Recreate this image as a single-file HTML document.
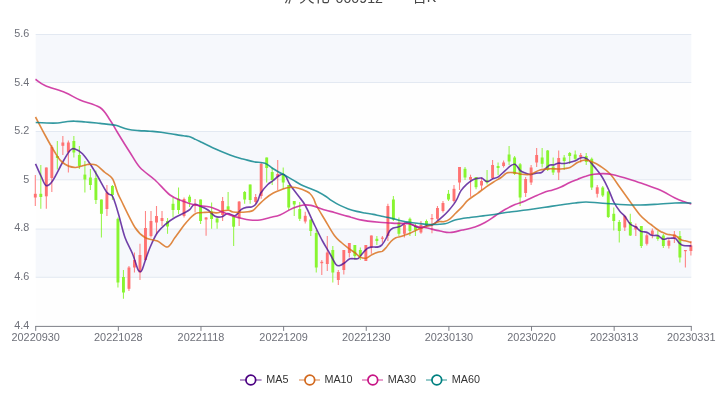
<!DOCTYPE html>
<html><head><meta charset="utf-8"><title>日K</title>
<style>
html,body{margin:0;padding:0;background:#fff;}
body{width:720px;height:405px;position:relative;overflow:hidden;font-family:"Liberation Sans","Noto Sans CJK SC",sans-serif;}
.title{position:absolute;left:0;top:0;width:720px;height:10px;color:#464646;font-weight:normal;white-space:nowrap;}
.title span{position:absolute;top:-12.3px;line-height:18px;}
.yl{position:absolute;left:0;width:29.2px;text-align:right;font-size:10.8px;line-height:12px;color:#6e7079;}
.xl{position:absolute;top:330.6px;width:80px;text-align:center;font-size:10.9px;line-height:12px;color:#6e7079;}
.lg{position:absolute;top:372.8px;height:14px;display:flex;align-items:center;font-size:10.6px;line-height:12px;color:#333;}
.lg span{margin-left:4.3px;font-size:10.8px;position:relative;top:-0.5px}
</style></head><body>
<div class="title"><span style="left:284px;font-size:15.3px">泸天化</span> <span style="left:335.6px;font-size:14.2px;top:-10.6px">000912</span> <span style="left:390px;font-size:14.7px">—</span> <span style="left:412.5px;font-size:14.2px">日K</span></div>
<svg width="720" height="405" viewBox="0 0 720 405" style="position:absolute;left:0;top:0">
<rect x="35.7" y="34.50" width="655.6" height="48.00" fill="#f6f8fc"/>
<rect x="35.7" y="82.50" width="655.6" height="49.00" fill="#fefefe"/>
<rect x="35.7" y="131.50" width="655.6" height="48.30" fill="#f6f8fc"/>
<rect x="35.7" y="179.80" width="655.6" height="49.30" fill="#fefefe"/>
<rect x="35.7" y="229.10" width="655.6" height="48.20" fill="#f6f8fc"/>
<rect x="35.7" y="277.30" width="655.6" height="49.10" fill="#fefefe"/>
<line x1="35.7" x2="691.3" y1="34.50" y2="34.50" stroke="#e0e6f1" stroke-width="0.9"/>
<line x1="35.7" x2="691.3" y1="82.50" y2="82.50" stroke="#e0e6f1" stroke-width="0.9"/>
<line x1="35.7" x2="691.3" y1="131.50" y2="131.50" stroke="#e0e6f1" stroke-width="0.9"/>
<line x1="35.7" x2="691.3" y1="179.80" y2="179.80" stroke="#e0e6f1" stroke-width="0.9"/>
<line x1="35.7" x2="691.3" y1="229.10" y2="229.10" stroke="#e0e6f1" stroke-width="0.9"/>
<line x1="35.7" x2="691.3" y1="277.30" y2="277.30" stroke="#e0e6f1" stroke-width="0.9"/>
<line x1="35.2" x2="691.8" y1="326.40" y2="326.40" stroke="#6e7079" stroke-width="0.9"/>
<line x1="35.70" x2="35.70" y1="326.40" y2="330.90" stroke="#6e7079" stroke-width="0.9"/>
<line x1="118.34" x2="118.34" y1="326.40" y2="330.90" stroke="#6e7079" stroke-width="0.9"/>
<line x1="200.98" x2="200.98" y1="326.40" y2="330.90" stroke="#6e7079" stroke-width="0.9"/>
<line x1="283.62" x2="283.62" y1="326.40" y2="330.90" stroke="#6e7079" stroke-width="0.9"/>
<line x1="366.25" x2="366.25" y1="326.40" y2="330.90" stroke="#6e7079" stroke-width="0.9"/>
<line x1="448.89" x2="448.89" y1="326.40" y2="330.90" stroke="#6e7079" stroke-width="0.9"/>
<line x1="531.53" x2="531.53" y1="326.40" y2="330.90" stroke="#6e7079" stroke-width="0.9"/>
<line x1="614.17" x2="614.17" y1="326.40" y2="330.90" stroke="#6e7079" stroke-width="0.9"/>
<line x1="691.30" x2="691.30" y1="326.40" y2="330.90" stroke="#6e7079" stroke-width="0.9"/>
<line x1="35.30" x2="35.30" y1="175.0" y2="206.0" stroke="#ff7272" stroke-width="1.1" opacity="0.85"/>
<rect x="33.85" y="193.8" width="2.90" height="3.7" fill="#ff7272"/>
<line x1="40.81" x2="40.81" y1="165.0" y2="208.8" stroke="#88f530" stroke-width="1.1" opacity="0.85"/>
<rect x="39.36" y="193.8" width="2.90" height="3.2" fill="#88f530"/>
<line x1="46.32" x2="46.32" y1="167.5" y2="208.8" stroke="#ff7272" stroke-width="1.1" opacity="0.85"/>
<rect x="44.87" y="167.5" width="2.90" height="28.8" fill="#ff7272"/>
<line x1="51.83" x2="51.83" y1="145.0" y2="192.0" stroke="#ff7272" stroke-width="1.1" opacity="0.85"/>
<rect x="50.38" y="147.0" width="2.90" height="31.0" fill="#ff7272"/>
<line x1="57.34" x2="57.34" y1="141.0" y2="169.6" stroke="#88f530" stroke-width="1.1" opacity="0.85"/>
<rect x="55.89" y="156.0" width="2.90" height="2.0" fill="#88f530"/>
<line x1="62.85" x2="62.85" y1="136.0" y2="155.0" stroke="#ff7272" stroke-width="1.1" opacity="0.85"/>
<rect x="61.40" y="142.5" width="2.90" height="3.3" fill="#ff7272"/>
<line x1="68.36" x2="68.36" y1="140.5" y2="172.5" stroke="#ff7272" stroke-width="1.1" opacity="0.85"/>
<rect x="66.91" y="142.5" width="2.90" height="10.0" fill="#ff7272"/>
<line x1="73.86" x2="73.86" y1="136.0" y2="157.5" stroke="#88f530" stroke-width="1.1" opacity="0.85"/>
<rect x="72.41" y="141.0" width="2.90" height="11.5" fill="#88f530"/>
<line x1="79.37" x2="79.37" y1="146.0" y2="169.0" stroke="#88f530" stroke-width="1.1" opacity="0.85"/>
<rect x="77.92" y="155.0" width="2.90" height="11.0" fill="#88f530"/>
<line x1="84.88" x2="84.88" y1="161.0" y2="192.5" stroke="#88f530" stroke-width="1.1" opacity="0.85"/>
<rect x="83.43" y="174.6" width="2.90" height="4.9" fill="#88f530"/>
<line x1="90.39" x2="90.39" y1="169.0" y2="190.0" stroke="#88f530" stroke-width="1.1" opacity="0.85"/>
<rect x="88.94" y="177.5" width="2.90" height="7.5" fill="#88f530"/>
<line x1="95.90" x2="95.90" y1="170.4" y2="204.0" stroke="#88f530" stroke-width="1.1" opacity="0.85"/>
<rect x="94.45" y="178.0" width="2.90" height="22.0" fill="#88f530"/>
<line x1="101.41" x2="101.41" y1="199.5" y2="237.5" stroke="#88f530" stroke-width="1.1" opacity="0.85"/>
<rect x="99.96" y="199.5" width="2.90" height="14.3" fill="#88f530"/>
<line x1="106.92" x2="106.92" y1="185.0" y2="216.0" stroke="#ff7272" stroke-width="1.1" opacity="0.85"/>
<rect x="105.47" y="192.5" width="2.90" height="16.5" fill="#ff7272"/>
<line x1="112.43" x2="112.43" y1="185.0" y2="200.0" stroke="#88f530" stroke-width="1.1" opacity="0.85"/>
<rect x="110.98" y="186.0" width="2.90" height="9.0" fill="#88f530"/>
<line x1="117.94" x2="117.94" y1="217.5" y2="287.5" stroke="#88f530" stroke-width="1.1" opacity="0.85"/>
<rect x="116.49" y="218.8" width="2.90" height="63.7" fill="#88f530"/>
<line x1="123.45" x2="123.45" y1="270.0" y2="298.8" stroke="#88f530" stroke-width="1.1" opacity="0.85"/>
<rect x="122.00" y="277.0" width="2.90" height="15.5" fill="#88f530"/>
<line x1="128.96" x2="128.96" y1="266.0" y2="291.0" stroke="#ff7272" stroke-width="1.1" opacity="0.85"/>
<rect x="127.51" y="267.5" width="2.90" height="21.3" fill="#ff7272"/>
<line x1="134.47" x2="134.47" y1="252.5" y2="272.5" stroke="#ff7272" stroke-width="1.1" opacity="0.85"/>
<rect x="133.02" y="260.0" width="2.90" height="7.5" fill="#ff7272"/>
<line x1="139.98" x2="139.98" y1="243.8" y2="280.0" stroke="#ff7272" stroke-width="1.1" opacity="0.85"/>
<rect x="138.53" y="255.0" width="2.90" height="17.5" fill="#ff7272"/>
<line x1="145.48" x2="145.48" y1="211.0" y2="261.0" stroke="#ff7272" stroke-width="1.1" opacity="0.85"/>
<rect x="144.03" y="228.0" width="2.90" height="32.0" fill="#ff7272"/>
<line x1="150.99" x2="150.99" y1="211.0" y2="237.5" stroke="#ff7272" stroke-width="1.1" opacity="0.85"/>
<rect x="149.54" y="221.0" width="2.90" height="15.0" fill="#ff7272"/>
<line x1="156.50" x2="156.50" y1="206.0" y2="234.0" stroke="#ff7272" stroke-width="1.1" opacity="0.85"/>
<rect x="155.05" y="216.0" width="2.90" height="6.5" fill="#ff7272"/>
<line x1="162.01" x2="162.01" y1="211.0" y2="226.0" stroke="#ff7272" stroke-width="1.1" opacity="0.85"/>
<rect x="160.56" y="218.0" width="2.90" height="3.0" fill="#ff7272"/>
<line x1="167.52" x2="167.52" y1="218.0" y2="233.8" stroke="#88f530" stroke-width="1.1" opacity="0.85"/>
<rect x="166.07" y="221.0" width="2.90" height="5.5" fill="#88f530"/>
<line x1="173.03" x2="173.03" y1="197.5" y2="217.5" stroke="#88f530" stroke-width="1.1" opacity="0.85"/>
<rect x="171.58" y="203.8" width="2.90" height="6.2" fill="#88f530"/>
<line x1="178.54" x2="178.54" y1="187.5" y2="214.0" stroke="#88f530" stroke-width="1.1" opacity="0.85"/>
<rect x="177.09" y="198.8" width="2.90" height="11.2" fill="#88f530"/>
<line x1="184.05" x2="184.05" y1="197.5" y2="217.5" stroke="#ff7272" stroke-width="1.1" opacity="0.85"/>
<rect x="182.60" y="199.0" width="2.90" height="17.0" fill="#ff7272"/>
<line x1="189.56" x2="189.56" y1="194.7" y2="207.0" stroke="#88f530" stroke-width="1.1" opacity="0.85"/>
<rect x="188.11" y="196.7" width="2.90" height="5.6" fill="#88f530"/>
<line x1="195.07" x2="195.07" y1="199.0" y2="212.5" stroke="#ff7272" stroke-width="1.1" opacity="0.85"/>
<rect x="193.62" y="204.0" width="2.90" height="1.5" fill="#ff7272"/>
<line x1="200.58" x2="200.58" y1="199.5" y2="224.0" stroke="#88f530" stroke-width="1.1" opacity="0.85"/>
<rect x="199.13" y="199.5" width="2.90" height="21.5" fill="#88f530"/>
<line x1="206.09" x2="206.09" y1="217.0" y2="235.7" stroke="#ff7272" stroke-width="1.1" opacity="0.85"/>
<rect x="204.64" y="217.5" width="2.90" height="2.0" fill="#ff7272"/>
<line x1="211.60" x2="211.60" y1="202.5" y2="228.8" stroke="#88f530" stroke-width="1.1" opacity="0.85"/>
<rect x="210.15" y="211.5" width="2.90" height="7.5" fill="#88f530"/>
<line x1="217.11" x2="217.11" y1="217.4" y2="228.8" stroke="#88f530" stroke-width="1.1" opacity="0.85"/>
<rect x="215.66" y="218.5" width="2.90" height="4.0" fill="#88f530"/>
<line x1="222.61" x2="222.61" y1="197.0" y2="221.0" stroke="#ff7272" stroke-width="1.1" opacity="0.85"/>
<rect x="221.16" y="201.0" width="2.90" height="14.0" fill="#ff7272"/>
<line x1="228.12" x2="228.12" y1="192.0" y2="210.0" stroke="#88f530" stroke-width="1.1" opacity="0.85"/>
<rect x="226.67" y="206.3" width="2.90" height="3.1" fill="#88f530"/>
<line x1="233.63" x2="233.63" y1="215.0" y2="246.0" stroke="#88f530" stroke-width="1.1" opacity="0.85"/>
<rect x="232.18" y="216.0" width="2.90" height="10.7" fill="#88f530"/>
<line x1="239.14" x2="239.14" y1="201.0" y2="226.0" stroke="#ff7272" stroke-width="1.1" opacity="0.85"/>
<rect x="237.69" y="201.6" width="2.90" height="16.7" fill="#ff7272"/>
<line x1="244.65" x2="244.65" y1="191.0" y2="203.8" stroke="#88f530" stroke-width="1.1" opacity="0.85"/>
<rect x="243.20" y="192.0" width="2.90" height="7.5" fill="#88f530"/>
<line x1="250.16" x2="250.16" y1="184.5" y2="203.8" stroke="#88f530" stroke-width="1.1" opacity="0.85"/>
<rect x="248.71" y="184.5" width="2.90" height="15.5" fill="#88f530"/>
<line x1="255.67" x2="255.67" y1="194.0" y2="203.8" stroke="#ff7272" stroke-width="1.1" opacity="0.85"/>
<rect x="254.22" y="197.0" width="2.90" height="5.0" fill="#ff7272"/>
<line x1="261.18" x2="261.18" y1="162.5" y2="198.8" stroke="#ff7272" stroke-width="1.1" opacity="0.85"/>
<rect x="259.73" y="163.8" width="2.90" height="32.2" fill="#ff7272"/>
<line x1="266.69" x2="266.69" y1="157.5" y2="182.5" stroke="#88f530" stroke-width="1.1" opacity="0.85"/>
<rect x="265.24" y="157.5" width="2.90" height="10.5" fill="#88f530"/>
<line x1="272.20" x2="272.20" y1="167.5" y2="185.0" stroke="#88f530" stroke-width="1.1" opacity="0.85"/>
<rect x="270.75" y="172.0" width="2.90" height="8.0" fill="#88f530"/>
<line x1="277.71" x2="277.71" y1="160.0" y2="190.0" stroke="#ff7272" stroke-width="1.1" opacity="0.85"/>
<rect x="276.26" y="174.0" width="2.90" height="3.0" fill="#ff7272"/>
<line x1="283.22" x2="283.22" y1="167.5" y2="188.8" stroke="#88f530" stroke-width="1.1" opacity="0.85"/>
<rect x="281.77" y="173.8" width="2.90" height="8.7" fill="#88f530"/>
<line x1="288.73" x2="288.73" y1="185.0" y2="210.0" stroke="#88f530" stroke-width="1.1" opacity="0.85"/>
<rect x="287.28" y="185.0" width="2.90" height="22.5" fill="#88f530"/>
<line x1="294.23" x2="294.23" y1="201.0" y2="216.0" stroke="#88f530" stroke-width="1.1" opacity="0.85"/>
<rect x="292.78" y="201.0" width="2.90" height="3.5" fill="#88f530"/>
<line x1="299.74" x2="299.74" y1="202.0" y2="221.0" stroke="#88f530" stroke-width="1.1" opacity="0.85"/>
<rect x="298.29" y="209.0" width="2.90" height="9.8" fill="#88f530"/>
<line x1="305.25" x2="305.25" y1="211.7" y2="223.5" stroke="#ff7272" stroke-width="1.1" opacity="0.85"/>
<rect x="303.80" y="215.8" width="2.90" height="5.7" fill="#ff7272"/>
<line x1="310.76" x2="310.76" y1="219.5" y2="236.0" stroke="#88f530" stroke-width="1.1" opacity="0.85"/>
<rect x="309.31" y="219.5" width="2.90" height="11.5" fill="#88f530"/>
<line x1="316.27" x2="316.27" y1="230.0" y2="272.5" stroke="#88f530" stroke-width="1.1" opacity="0.85"/>
<rect x="314.82" y="233.0" width="2.90" height="34.5" fill="#88f530"/>
<line x1="321.78" x2="321.78" y1="260.0" y2="275.0" stroke="#ff7272" stroke-width="1.1" opacity="0.85"/>
<rect x="320.33" y="261.8" width="2.90" height="1.4" fill="#ff7272"/>
<line x1="327.29" x2="327.29" y1="236.0" y2="271.0" stroke="#ff7272" stroke-width="1.1" opacity="0.85"/>
<rect x="325.84" y="252.5" width="2.90" height="11.5" fill="#ff7272"/>
<line x1="332.80" x2="332.80" y1="246.0" y2="282.5" stroke="#88f530" stroke-width="1.1" opacity="0.85"/>
<rect x="331.35" y="250.0" width="2.90" height="22.5" fill="#88f530"/>
<line x1="338.31" x2="338.31" y1="270.0" y2="285.0" stroke="#ff7272" stroke-width="1.1" opacity="0.85"/>
<rect x="336.86" y="272.0" width="2.90" height="8.0" fill="#ff7272"/>
<line x1="343.82" x2="343.82" y1="250.0" y2="274.5" stroke="#ff7272" stroke-width="1.1" opacity="0.85"/>
<rect x="342.37" y="250.0" width="2.90" height="20.0" fill="#ff7272"/>
<line x1="349.33" x2="349.33" y1="243.0" y2="257.5" stroke="#ff7272" stroke-width="1.1" opacity="0.85"/>
<rect x="347.88" y="243.0" width="2.90" height="10.0" fill="#ff7272"/>
<line x1="354.84" x2="354.84" y1="245.0" y2="260.0" stroke="#88f530" stroke-width="1.1" opacity="0.85"/>
<rect x="353.39" y="245.0" width="2.90" height="11.0" fill="#88f530"/>
<line x1="360.35" x2="360.35" y1="247.5" y2="260.0" stroke="#88f530" stroke-width="1.1" opacity="0.85"/>
<rect x="358.90" y="250.0" width="2.90" height="5.5" fill="#88f530"/>
<line x1="365.85" x2="365.85" y1="245.0" y2="261.0" stroke="#ff7272" stroke-width="1.1" opacity="0.85"/>
<rect x="364.40" y="245.0" width="2.90" height="16.0" fill="#ff7272"/>
<line x1="371.36" x2="371.36" y1="235.5" y2="253.8" stroke="#ff7272" stroke-width="1.1" opacity="0.85"/>
<rect x="369.91" y="235.5" width="2.90" height="12.0" fill="#ff7272"/>
<line x1="376.87" x2="376.87" y1="236.0" y2="245.0" stroke="#88f530" stroke-width="1.1" opacity="0.85"/>
<rect x="375.42" y="238.8" width="2.90" height="2.2" fill="#88f530"/>
<line x1="382.38" x2="382.38" y1="236.0" y2="242.8" stroke="#ff7272" stroke-width="1.1" opacity="0.85"/>
<rect x="380.93" y="237.6" width="2.90" height="1.2" fill="#ff7272"/>
<line x1="387.89" x2="387.89" y1="203.8" y2="241.0" stroke="#ff7272" stroke-width="1.1" opacity="0.85"/>
<rect x="386.44" y="206.0" width="2.90" height="30.0" fill="#ff7272"/>
<line x1="393.40" x2="393.40" y1="196.0" y2="221.0" stroke="#88f530" stroke-width="1.1" opacity="0.85"/>
<rect x="391.95" y="199.5" width="2.90" height="20.0" fill="#88f530"/>
<line x1="398.91" x2="398.91" y1="217.5" y2="236.0" stroke="#88f530" stroke-width="1.1" opacity="0.85"/>
<rect x="397.46" y="222.5" width="2.90" height="11.3" fill="#88f530"/>
<line x1="404.42" x2="404.42" y1="222.5" y2="237.5" stroke="#ff7272" stroke-width="1.1" opacity="0.85"/>
<rect x="402.97" y="225.0" width="2.90" height="8.8" fill="#ff7272"/>
<line x1="409.93" x2="409.93" y1="217.5" y2="236.0" stroke="#88f530" stroke-width="1.1" opacity="0.85"/>
<rect x="408.48" y="218.8" width="2.90" height="12.2" fill="#88f530"/>
<line x1="415.44" x2="415.44" y1="223.8" y2="236.0" stroke="#88f530" stroke-width="1.1" opacity="0.85"/>
<rect x="413.99" y="226.0" width="2.90" height="4.0" fill="#88f530"/>
<line x1="420.95" x2="420.95" y1="221.0" y2="233.8" stroke="#ff7272" stroke-width="1.1" opacity="0.85"/>
<rect x="419.50" y="225.0" width="2.90" height="7.5" fill="#ff7272"/>
<line x1="426.46" x2="426.46" y1="219.5" y2="226.0" stroke="#88f530" stroke-width="1.1" opacity="0.85"/>
<rect x="425.01" y="221.0" width="2.90" height="4.0" fill="#88f530"/>
<line x1="431.97" x2="431.97" y1="214.0" y2="233.3" stroke="#ff7272" stroke-width="1.1" opacity="0.85"/>
<rect x="430.52" y="218.0" width="2.90" height="1.3" fill="#ff7272"/>
<line x1="437.47" x2="437.47" y1="206.0" y2="220.0" stroke="#ff7272" stroke-width="1.1" opacity="0.85"/>
<rect x="436.02" y="208.0" width="2.90" height="10.8" fill="#ff7272"/>
<line x1="442.98" x2="442.98" y1="201.0" y2="212.5" stroke="#ff7272" stroke-width="1.1" opacity="0.85"/>
<rect x="441.53" y="203.0" width="2.90" height="8.0" fill="#ff7272"/>
<line x1="448.49" x2="448.49" y1="190.0" y2="201.0" stroke="#88f530" stroke-width="1.1" opacity="0.85"/>
<rect x="447.04" y="193.8" width="2.90" height="5.7" fill="#88f530"/>
<line x1="454.00" x2="454.00" y1="185.0" y2="202.5" stroke="#ff7272" stroke-width="1.1" opacity="0.85"/>
<rect x="452.55" y="188.8" width="2.90" height="12.2" fill="#ff7272"/>
<line x1="459.51" x2="459.51" y1="167.0" y2="190.0" stroke="#ff7272" stroke-width="1.1" opacity="0.85"/>
<rect x="458.06" y="167.0" width="2.90" height="15.5" fill="#ff7272"/>
<line x1="465.02" x2="465.02" y1="167.0" y2="180.0" stroke="#88f530" stroke-width="1.1" opacity="0.85"/>
<rect x="463.57" y="168.8" width="2.90" height="8.7" fill="#88f530"/>
<line x1="470.53" x2="470.53" y1="174.7" y2="196.8" stroke="#ff7272" stroke-width="1.1" opacity="0.85"/>
<rect x="469.08" y="177.0" width="2.90" height="2.7" fill="#ff7272"/>
<line x1="476.04" x2="476.04" y1="177.0" y2="189.2" stroke="#88f530" stroke-width="1.1" opacity="0.85"/>
<rect x="474.59" y="177.0" width="2.90" height="10.2" fill="#88f530"/>
<line x1="481.55" x2="481.55" y1="177.5" y2="190.0" stroke="#ff7272" stroke-width="1.1" opacity="0.85"/>
<rect x="480.10" y="181.0" width="2.90" height="4.5" fill="#ff7272"/>
<line x1="487.06" x2="487.06" y1="170.0" y2="184.5" stroke="#88f530" stroke-width="1.1" opacity="0.85"/>
<rect x="485.61" y="180.2" width="2.90" height="2.4" fill="#88f530"/>
<line x1="492.57" x2="492.57" y1="160.0" y2="178.8" stroke="#ff7272" stroke-width="1.1" opacity="0.85"/>
<rect x="491.12" y="165.0" width="2.90" height="13.0" fill="#ff7272"/>
<line x1="498.08" x2="498.08" y1="162.5" y2="175.0" stroke="#88f530" stroke-width="1.1" opacity="0.85"/>
<rect x="496.63" y="166.0" width="2.90" height="2.0" fill="#88f530"/>
<line x1="503.59" x2="503.59" y1="160.5" y2="167.5" stroke="#ff7272" stroke-width="1.1" opacity="0.85"/>
<rect x="502.14" y="162.5" width="2.90" height="3.5" fill="#ff7272"/>
<line x1="509.09" x2="509.09" y1="146.0" y2="165.0" stroke="#88f530" stroke-width="1.1" opacity="0.85"/>
<rect x="507.64" y="154.5" width="2.90" height="7.0" fill="#88f530"/>
<line x1="514.60" x2="514.60" y1="156.0" y2="175.0" stroke="#88f530" stroke-width="1.1" opacity="0.85"/>
<rect x="513.15" y="157.5" width="2.90" height="16.3" fill="#88f530"/>
<line x1="520.11" x2="520.11" y1="163.0" y2="206.0" stroke="#88f530" stroke-width="1.1" opacity="0.85"/>
<rect x="518.66" y="164.3" width="2.90" height="33.2" fill="#88f530"/>
<line x1="525.62" x2="525.62" y1="177.0" y2="197.0" stroke="#ff7272" stroke-width="1.1" opacity="0.85"/>
<rect x="524.17" y="179.0" width="2.90" height="14.0" fill="#ff7272"/>
<line x1="531.13" x2="531.13" y1="165.0" y2="185.0" stroke="#ff7272" stroke-width="1.1" opacity="0.85"/>
<rect x="529.68" y="167.5" width="2.90" height="15.0" fill="#ff7272"/>
<line x1="536.64" x2="536.64" y1="148.0" y2="167.0" stroke="#ff7272" stroke-width="1.1" opacity="0.85"/>
<rect x="535.19" y="155.0" width="2.90" height="7.5" fill="#ff7272"/>
<line x1="542.15" x2="542.15" y1="148.0" y2="167.5" stroke="#88f530" stroke-width="1.1" opacity="0.85"/>
<rect x="540.70" y="157.5" width="2.90" height="6.3" fill="#88f530"/>
<line x1="547.66" x2="547.66" y1="150.0" y2="171.0" stroke="#88f530" stroke-width="1.1" opacity="0.85"/>
<rect x="546.21" y="150.5" width="2.90" height="19.0" fill="#88f530"/>
<line x1="553.17" x2="553.17" y1="157.5" y2="175.0" stroke="#88f530" stroke-width="1.1" opacity="0.85"/>
<rect x="551.72" y="166.5" width="2.90" height="6.0" fill="#88f530"/>
<line x1="558.68" x2="558.68" y1="150.5" y2="180.0" stroke="#ff7272" stroke-width="1.1" opacity="0.85"/>
<rect x="557.23" y="158.0" width="2.90" height="14.5" fill="#ff7272"/>
<line x1="564.19" x2="564.19" y1="155.0" y2="170.0" stroke="#88f530" stroke-width="1.1" opacity="0.85"/>
<rect x="562.74" y="157.5" width="2.90" height="3.5" fill="#88f530"/>
<line x1="569.70" x2="569.70" y1="152.0" y2="164.0" stroke="#88f530" stroke-width="1.1" opacity="0.85"/>
<rect x="568.25" y="153.0" width="2.90" height="3.0" fill="#88f530"/>
<line x1="575.21" x2="575.21" y1="150.5" y2="160.5" stroke="#88f530" stroke-width="1.1" opacity="0.85"/>
<rect x="573.76" y="154.5" width="2.90" height="4.3" fill="#88f530"/>
<line x1="580.72" x2="580.72" y1="153.0" y2="162.5" stroke="#ff7272" stroke-width="1.1" opacity="0.85"/>
<rect x="579.27" y="155.0" width="2.90" height="2.0" fill="#ff7272"/>
<line x1="586.22" x2="586.22" y1="153.0" y2="165.0" stroke="#88f530" stroke-width="1.1" opacity="0.85"/>
<rect x="584.77" y="156.0" width="2.90" height="6.0" fill="#88f530"/>
<line x1="591.73" x2="591.73" y1="157.5" y2="190.0" stroke="#88f530" stroke-width="1.1" opacity="0.85"/>
<rect x="590.28" y="158.8" width="2.90" height="28.7" fill="#88f530"/>
<line x1="597.24" x2="597.24" y1="185.0" y2="197.5" stroke="#ff7272" stroke-width="1.1" opacity="0.85"/>
<rect x="595.79" y="187.3" width="2.90" height="6.5" fill="#ff7272"/>
<line x1="602.75" x2="602.75" y1="186.0" y2="197.0" stroke="#88f530" stroke-width="1.1" opacity="0.85"/>
<rect x="601.30" y="187.5" width="2.90" height="8.0" fill="#88f530"/>
<line x1="608.26" x2="608.26" y1="191.0" y2="218.0" stroke="#88f530" stroke-width="1.1" opacity="0.85"/>
<rect x="606.81" y="191.5" width="2.90" height="25.5" fill="#88f530"/>
<line x1="613.77" x2="613.77" y1="207.5" y2="230.5" stroke="#88f530" stroke-width="1.1" opacity="0.85"/>
<rect x="612.32" y="213.8" width="2.90" height="7.2" fill="#88f530"/>
<line x1="619.28" x2="619.28" y1="220.0" y2="242.5" stroke="#88f530" stroke-width="1.1" opacity="0.85"/>
<rect x="617.83" y="222.0" width="2.90" height="9.0" fill="#88f530"/>
<line x1="624.79" x2="624.79" y1="215.0" y2="231.0" stroke="#ff7272" stroke-width="1.1" opacity="0.85"/>
<rect x="623.34" y="216.0" width="2.90" height="11.5" fill="#ff7272"/>
<line x1="630.30" x2="630.30" y1="213.8" y2="236.0" stroke="#88f530" stroke-width="1.1" opacity="0.85"/>
<rect x="628.85" y="222.0" width="2.90" height="13.5" fill="#88f530"/>
<line x1="635.81" x2="635.81" y1="223.6" y2="236.0" stroke="#ff7272" stroke-width="1.1" opacity="0.85"/>
<rect x="634.36" y="226.0" width="2.90" height="3.5" fill="#ff7272"/>
<line x1="641.32" x2="641.32" y1="226.0" y2="248.0" stroke="#88f530" stroke-width="1.1" opacity="0.85"/>
<rect x="639.87" y="226.0" width="2.90" height="20.0" fill="#88f530"/>
<line x1="646.83" x2="646.83" y1="233.5" y2="245.5" stroke="#ff7272" stroke-width="1.1" opacity="0.85"/>
<rect x="645.38" y="235.3" width="2.90" height="8.5" fill="#ff7272"/>
<line x1="652.34" x2="652.34" y1="228.5" y2="238.2" stroke="#ff7272" stroke-width="1.1" opacity="0.85"/>
<rect x="650.89" y="230.6" width="2.90" height="4.1" fill="#ff7272"/>
<line x1="657.84" x2="657.84" y1="231.0" y2="240.8" stroke="#88f530" stroke-width="1.1" opacity="0.85"/>
<rect x="656.39" y="236.2" width="2.90" height="2.8" fill="#88f530"/>
<line x1="663.35" x2="663.35" y1="234.0" y2="248.0" stroke="#88f530" stroke-width="1.1" opacity="0.85"/>
<rect x="661.90" y="235.5" width="2.90" height="10.5" fill="#88f530"/>
<line x1="668.86" x2="668.86" y1="238.8" y2="248.5" stroke="#ff7272" stroke-width="1.1" opacity="0.85"/>
<rect x="667.41" y="240.6" width="2.90" height="5.2" fill="#ff7272"/>
<line x1="674.37" x2="674.37" y1="231.0" y2="243.0" stroke="#ff7272" stroke-width="1.1" opacity="0.85"/>
<rect x="672.92" y="234.5" width="2.90" height="3.5" fill="#ff7272"/>
<line x1="679.88" x2="679.88" y1="231.0" y2="262.5" stroke="#88f530" stroke-width="1.1" opacity="0.85"/>
<rect x="678.43" y="236.0" width="2.90" height="21.5" fill="#88f530"/>
<line x1="685.39" x2="685.39" y1="250.0" y2="267.5" stroke="#ff7272" stroke-width="1.1" opacity="0.85"/>
<rect x="683.94" y="250.0" width="2.90" height="1.2" fill="#ff7272"/>
<line x1="690.90" x2="690.90" y1="241.0" y2="255.5" stroke="#ff7272" stroke-width="1.1" opacity="0.85"/>
<rect x="689.45" y="245.5" width="2.90" height="5.5" fill="#ff7272"/>
<path d="M35.5 163.8 C36.4 165.8 39.2 172.4 41.0 176.0 C42.8 179.6 44.1 184.7 46.0 185.5 C47.9 186.3 49.8 184.8 52.5 181.0 C55.2 177.2 59.6 167.6 62.5 162.5 C65.4 157.4 67.9 152.8 70.0 150.5 C72.1 148.2 72.9 148.4 75.0 149.0 C77.1 149.6 80.0 151.3 82.5 153.8 C85.0 156.3 87.5 160.1 90.0 163.8 C92.5 167.5 94.7 171.2 97.5 176.0 C100.3 180.8 104.6 189.4 107.0 192.6 C109.4 195.8 110.7 193.9 112.0 195.4 C113.3 196.9 113.5 198.3 114.7 201.7 C115.9 205.0 117.2 209.5 118.9 215.5 C120.6 221.5 122.7 231.1 125.0 237.5 C127.3 243.9 130.4 248.6 132.5 253.8 C134.6 259.0 136.4 265.6 137.5 268.5 C138.6 271.4 138.8 270.8 139.3 271.3 C139.8 271.8 140.2 271.8 140.6 271.6 C141.0 271.4 141.5 271.1 142.0 270.0 C142.5 268.9 142.5 268.8 143.8 265.0 C145.1 261.2 147.7 252.9 150.0 247.5 C152.3 242.1 154.8 236.4 157.5 232.5 C160.2 228.6 163.1 226.3 166.0 223.8 C168.9 221.3 171.8 219.4 175.0 217.5 C178.2 215.6 182.5 213.9 185.0 212.5 C187.5 211.1 188.5 210.7 190.0 209.3 C191.5 208.0 192.4 204.9 194.2 204.4 C196.0 203.9 198.7 205.6 201.0 206.5 C203.3 207.4 205.7 208.4 208.0 210.0 C210.3 211.6 212.7 215.1 215.0 216.2 C217.3 217.4 219.9 217.2 222.0 216.7 C224.1 216.2 225.4 213.7 227.5 213.5 C229.6 213.3 232.9 215.8 234.7 215.7 C236.4 215.6 236.9 214.2 238.0 213.2 C239.1 212.1 240.0 210.4 241.4 209.4 C242.8 208.4 244.7 207.8 246.4 207.4 C248.1 207.0 250.1 207.3 251.5 206.9 C252.9 206.5 253.9 206.1 255.0 205.0 C256.1 203.9 257.0 202.3 258.0 200.3 C259.0 198.3 259.2 195.6 260.8 193.0 C262.4 190.4 265.7 186.6 267.8 184.5 C269.9 182.4 271.5 182.0 273.3 180.5 C275.1 179.0 277.3 176.7 278.9 175.7 C280.5 174.7 281.9 174.2 283.0 174.3 C284.1 174.4 284.6 174.7 285.8 176.4 C287.0 178.1 287.9 181.5 290.0 184.7 C292.1 187.9 295.8 192.3 298.3 195.8 C300.9 199.3 302.5 200.5 305.3 205.5 C308.1 210.5 312.1 220.1 315.0 226.0 C317.9 231.9 320.0 236.4 322.5 241.0 C325.0 245.6 327.8 249.9 330.0 253.8 C332.2 257.7 334.3 262.6 336.0 264.5 C337.7 266.4 338.5 265.8 340.0 265.5 C341.5 265.2 343.3 263.6 345.0 262.5 C346.7 261.4 347.9 259.4 350.0 258.8 C352.1 258.2 355.8 259.2 357.5 258.8 C359.2 258.4 359.0 257.5 360.0 256.4 C361.0 255.3 362.5 253.3 363.7 252.0 C364.9 250.7 366.2 249.1 367.4 248.3 C368.6 247.5 369.2 247.3 371.1 247.1 C373.0 246.9 376.6 247.3 378.5 246.9 C380.4 246.5 380.9 246.0 382.2 244.6 C383.4 243.2 384.8 240.8 386.0 238.5 C387.2 236.2 388.4 232.8 389.6 231.0 C390.8 229.2 392.1 228.6 393.3 228.0 C394.5 227.4 395.8 227.6 397.0 227.3 C398.2 227.0 399.5 226.7 400.7 226.1 C401.9 225.5 403.2 224.1 404.4 223.6 C405.6 223.1 406.2 222.5 408.1 223.0 C410.0 223.5 413.4 225.6 415.5 226.4 C417.6 227.2 419.1 227.9 421.0 227.8 C422.9 227.7 424.8 226.2 426.6 225.7 C428.5 225.2 430.3 225.8 432.1 225.0 C433.9 224.2 435.8 222.4 437.6 220.9 C439.4 219.4 441.2 217.8 443.1 216.1 C445.0 214.4 446.9 212.6 448.7 210.5 C450.5 208.4 452.8 205.5 454.2 203.6 C455.6 201.7 455.9 201.2 457.0 199.0 C458.1 196.8 459.4 193.0 461.0 190.6 C462.6 188.2 464.8 186.1 466.6 184.4 C468.5 182.7 470.3 181.2 472.1 180.2 C473.9 179.2 476.0 178.8 477.6 178.4 C479.2 178.1 480.4 177.6 481.8 178.1 C483.2 178.6 484.8 180.7 485.9 181.2 C487.0 181.7 487.5 181.6 488.7 181.2 C489.9 180.8 491.2 179.5 492.8 178.8 C494.4 178.1 496.2 178.2 498.3 176.8 C500.4 175.4 503.1 172.4 505.2 170.6 C507.3 168.8 509.2 166.8 510.8 165.7 C512.4 164.6 513.8 164.1 514.9 164.3 C516.0 164.5 516.8 166.1 517.7 167.1 C518.6 168.1 519.2 169.6 520.4 170.6 C521.5 171.6 522.9 172.2 524.6 172.8 C526.3 173.5 528.6 174.4 530.5 174.5 C532.4 174.6 534.1 173.4 536.0 173.1 C537.9 172.8 540.0 173.3 541.6 172.5 C543.2 171.7 544.3 169.5 545.7 168.3 C547.1 167.1 548.5 165.7 549.9 165.1 C551.3 164.5 552.6 165.2 554.0 164.9 C555.4 164.6 556.7 163.4 558.1 163.2 C559.5 163.0 560.9 163.5 562.3 163.5 C563.7 163.5 564.8 163.5 566.4 163.2 C568.0 162.9 570.4 162.3 572.0 161.8 C573.6 161.3 574.7 161.0 576.1 160.4 C577.5 159.8 578.8 158.4 580.2 158.0 C581.6 157.6 583.0 157.4 584.4 157.7 C585.8 158.0 587.1 158.8 588.5 160.0 C589.9 161.2 591.3 163.3 592.7 164.9 C594.1 166.5 595.4 168.0 596.8 169.7 C598.2 171.4 599.6 173.1 601.0 175.2 C602.4 177.3 603.7 179.5 605.0 182.1 C606.3 184.7 607.5 187.2 609.0 190.5 C610.5 193.8 612.0 198.5 613.8 202.0 C615.6 205.5 618.1 209.1 620.0 211.5 C621.9 213.9 623.3 214.4 625.0 216.5 C626.7 218.6 628.4 222.2 630.2 224.0 C632.0 225.8 634.6 226.1 636.0 227.0 C637.4 227.9 637.7 228.8 638.5 229.5 C639.3 230.2 640.2 231.0 641.0 231.4 C641.8 231.8 642.7 231.7 643.5 231.8 C644.3 231.9 645.2 231.9 646.0 232.1 C646.8 232.3 647.7 232.8 648.5 233.2 C649.3 233.7 650.2 234.6 651.0 235.0 C651.8 235.4 652.7 235.4 653.5 235.5 C654.3 235.6 655.2 235.4 656.0 235.4 C656.8 235.4 657.8 235.4 658.5 235.8 C659.2 236.1 659.8 236.9 660.5 237.4 C661.2 237.9 661.8 238.7 662.5 239.0 C663.2 239.3 664.2 239.3 665.0 239.2 C665.8 239.1 666.6 238.5 667.5 238.3 C668.4 238.1 669.2 238.2 670.5 238.2 C671.8 238.2 673.9 238.0 675.0 238.3 C676.1 238.6 676.3 239.3 677.0 240.0 C677.7 240.7 678.2 242.0 679.0 242.8 C679.8 243.5 680.5 244.2 681.5 244.8 C682.5 245.2 683.4 245.6 685.0 245.8 C686.6 245.9 690.2 245.9 691.3 245.9" fill="none" stroke="#4e1094" stroke-opacity="0.8" stroke-width="1.6" stroke-linejoin="round" stroke-linecap="butt"/>
<path d="M35.5 117.0 C37.1 120.0 41.8 129.1 45.0 135.0 C48.2 140.9 52.1 147.9 55.0 152.5 C57.9 157.1 59.2 160.0 62.5 162.5 C65.8 165.0 70.8 167.2 75.0 167.5 C79.2 167.8 84.0 164.9 87.5 164.5 C91.0 164.1 93.1 163.7 96.0 165.0 C98.9 166.3 102.2 170.2 105.0 172.5 C107.8 174.8 110.4 175.5 112.5 178.8 C114.6 182.1 116.1 189.0 117.5 192.5 C118.9 196.0 118.1 194.2 121.0 200.0 C123.9 205.8 131.0 221.2 135.0 227.5 C139.0 233.8 141.2 235.2 145.0 237.5 C148.8 239.8 153.8 239.4 157.5 241.0 C161.2 242.6 164.6 247.6 167.5 247.0 C170.4 246.4 172.1 241.3 175.0 237.5 C177.9 233.7 182.5 227.2 185.0 224.0 C187.5 220.8 188.5 219.9 190.0 218.3 C191.5 216.7 192.9 215.4 194.2 214.5 C195.5 213.6 196.2 213.2 198.0 212.8 C199.8 212.5 202.5 212.5 204.9 212.4 C207.3 212.3 210.0 212.3 212.2 212.4 C214.3 212.5 216.0 213.1 217.8 212.8 C219.7 212.5 221.5 211.1 223.3 210.7 C225.2 210.3 227.3 210.1 228.9 210.3 C230.5 210.5 230.7 211.7 233.0 212.0 C235.3 212.3 240.5 212.2 243.0 212.2 C245.5 212.2 246.3 212.1 248.0 211.8 C249.7 211.5 251.3 211.6 253.0 210.5 C254.7 209.4 256.0 207.4 258.0 205.5 C260.0 203.6 262.4 200.9 265.0 198.8 C267.6 196.7 270.5 194.5 273.3 193.0 C276.1 191.5 279.1 190.5 281.7 189.6 C284.2 188.7 286.3 187.8 288.6 187.5 C290.9 187.2 293.2 187.2 295.5 187.5 C297.8 187.8 300.2 188.7 302.5 189.6 C304.8 190.5 307.5 191.5 309.4 193.0 C311.2 194.5 312.4 196.5 313.6 198.6 C314.8 200.7 314.5 201.9 316.4 205.5 C318.3 209.1 322.0 215.0 325.0 220.0 C328.0 225.0 331.7 231.8 334.4 235.5 C337.1 239.2 339.1 240.4 341.4 242.5 C343.7 244.6 346.0 246.4 348.3 248.2 C350.6 249.9 353.4 251.5 355.3 253.0 C357.2 254.5 358.2 256.1 360.0 257.0 C361.8 257.9 364.1 258.6 366.2 258.2 C368.2 257.8 370.2 255.5 372.3 254.5 C374.4 253.5 376.9 252.5 378.5 252.0 C380.1 251.5 380.9 252.1 382.2 251.4 C383.4 250.7 384.6 249.3 386.0 247.7 C387.4 246.0 389.3 243.2 390.9 241.5 C392.5 239.8 394.2 238.6 395.8 237.8 C397.4 237.0 399.1 237.1 400.7 236.6 C402.3 236.1 404.1 235.3 405.7 234.8 C407.2 234.2 407.9 234.2 410.0 233.3 C412.1 232.4 415.5 230.3 418.3 229.2 C421.1 228.0 423.8 227.4 426.6 226.4 C429.4 225.4 432.8 224.2 434.9 223.4 C437.0 222.6 437.4 221.9 439.0 221.6 C440.6 221.3 442.7 222.1 444.5 221.6 C446.3 221.1 448.1 220.2 450.0 218.8 C451.9 217.4 453.5 215.4 455.6 213.3 C457.7 211.2 460.4 208.6 462.5 206.4 C464.6 204.2 465.5 202.4 468.0 200.2 C470.5 198.0 474.6 195.5 477.6 193.3 C480.6 191.1 483.1 189.1 485.9 187.1 C488.7 185.1 491.7 183.2 494.2 181.6 C496.7 180.0 499.3 178.8 501.1 177.5 C502.9 176.2 504.1 174.8 505.2 174.0 C506.3 173.2 506.6 172.8 508.0 172.6 C509.4 172.4 511.9 172.5 513.5 172.6 C515.1 172.7 516.3 173.0 517.7 173.3 C519.1 173.6 519.8 174.1 521.8 174.3 C523.8 174.5 528.2 174.6 530.0 174.5 C531.8 174.4 530.8 174.2 532.5 173.5 C534.2 172.8 537.1 170.8 540.0 170.0 C542.9 169.2 546.7 169.0 550.0 168.8 C553.3 168.6 556.7 169.2 560.0 169.0 C563.3 168.8 567.1 168.6 570.0 167.5 C572.9 166.4 575.0 163.8 577.5 162.5 C580.0 161.2 582.5 160.1 585.0 160.0 C587.5 159.9 590.0 161.0 592.5 162.0 C595.0 163.0 597.1 164.0 600.0 166.0 C602.9 168.0 606.7 170.2 610.0 173.8 C613.3 177.4 616.7 182.9 620.0 187.5 C623.3 192.1 626.7 196.9 630.0 201.5 C633.3 206.1 637.1 211.6 640.0 215.0 C642.9 218.4 645.7 220.4 647.5 222.0 C649.3 223.6 649.6 223.4 651.0 224.5 C652.4 225.6 654.3 227.3 656.0 228.5 C657.7 229.7 659.7 231.0 661.0 231.8 C662.3 232.5 663.0 232.5 664.0 232.9 C665.0 233.3 665.9 233.9 667.0 234.2 C668.1 234.5 669.2 234.6 670.5 234.8 C671.8 235.0 673.9 235.2 675.0 235.5 C676.1 235.8 676.3 236.2 677.0 236.8 C677.7 237.2 678.2 238.0 679.0 238.5 C679.8 239.0 680.5 239.6 681.5 240.0 C682.5 240.4 683.4 240.4 685.0 240.8 C686.6 241.2 690.2 242.2 691.3 242.5" fill="none" stroke="#d86a12" stroke-opacity="0.8" stroke-width="1.6" stroke-linejoin="round" stroke-linecap="butt"/>
<path d="M35.5 79.3 C37.1 80.3 40.1 83.3 45.0 85.5 C49.9 87.7 59.2 90.1 65.0 92.5 C70.8 94.9 74.2 97.5 80.0 100.0 C85.8 102.5 95.0 104.2 100.0 107.5 C105.0 110.8 107.1 115.8 110.0 120.0 C112.9 124.2 114.2 127.1 117.5 132.5 C120.8 137.9 126.2 146.7 130.0 152.5 C133.8 158.3 135.8 162.9 140.0 167.5 C144.2 172.1 150.0 175.4 155.0 180.0 C160.0 184.6 165.4 191.5 170.0 195.0 C174.6 198.5 178.3 199.3 182.5 201.0 C186.7 202.7 190.4 204.0 195.0 205.0 C199.6 206.0 205.8 206.0 210.0 207.0 C214.2 208.0 216.7 209.7 220.0 211.0 C223.3 212.3 226.7 213.8 230.0 215.0 C233.3 216.2 236.7 217.2 240.0 218.0 C243.3 218.8 246.7 219.7 250.0 220.0 C253.3 220.3 256.7 220.4 260.0 220.0 C263.3 219.6 266.7 218.3 270.0 217.5 C273.3 216.7 276.7 216.3 280.0 215.0 C283.3 213.7 287.2 211.0 290.0 209.6 C292.8 208.2 294.7 207.6 297.0 206.8 C299.3 206.0 301.7 205.2 304.0 205.0 C306.3 204.8 308.7 205.0 311.0 205.4 C313.3 205.8 315.3 206.7 317.8 207.5 C320.3 208.3 323.2 209.5 326.0 210.3 C328.8 211.1 331.6 211.6 334.4 212.4 C337.2 213.2 340.0 214.3 342.8 215.1 C345.6 215.9 348.2 216.4 351.0 217.2 C353.8 217.9 356.6 218.9 359.4 219.6 C362.2 220.2 364.5 220.6 367.8 221.1 C371.1 221.6 375.3 222.0 379.0 222.3 C382.7 222.6 387.0 222.8 390.0 223.0 C393.0 223.2 393.8 223.3 397.0 223.4 C400.2 223.5 405.6 223.2 409.4 223.8 C413.2 224.5 417.4 226.7 420.0 227.3 C422.6 227.9 421.7 226.9 425.0 227.5 C428.3 228.1 435.8 230.2 440.0 231.0 C444.2 231.8 446.2 232.7 450.0 232.5 C453.8 232.3 458.3 230.9 462.5 230.0 C466.7 229.1 471.2 228.2 475.0 227.0 C478.8 225.8 481.7 224.3 485.0 222.5 C488.3 220.7 491.7 218.2 495.0 216.0 C498.3 213.8 501.7 211.4 505.0 209.5 C508.3 207.6 511.7 205.9 515.0 204.5 C518.3 203.1 521.3 202.6 525.0 201.0 C528.7 199.4 533.9 196.7 537.4 195.2 C540.9 193.7 543.2 192.7 545.7 191.8 C548.2 190.9 550.1 190.8 552.6 190.0 C555.1 189.2 558.1 188.2 560.9 187.0 C563.7 185.8 566.4 184.1 569.2 182.8 C572.0 181.5 574.7 180.5 577.5 179.4 C580.3 178.3 583.0 177.0 585.8 176.2 C588.5 175.3 591.2 174.7 594.0 174.3 C596.8 173.9 599.5 173.6 602.5 173.6 C605.5 173.6 607.4 173.5 612.0 174.5 C616.6 175.5 624.5 177.8 630.0 179.5 C635.5 181.2 640.0 182.8 645.0 184.5 C650.0 186.2 655.0 187.8 660.0 190.0 C665.0 192.2 670.8 196.0 675.0 198.0 C679.2 200.0 682.3 201.0 685.0 202.0 C687.7 203.0 690.2 203.7 691.3 204.0" fill="none" stroke="#c71592" stroke-opacity="0.8" stroke-width="1.6" stroke-linejoin="round" stroke-linecap="butt"/>
<path d="M35.7 122.5 C37.5 122.6 43.0 122.9 46.7 123.0 C50.4 123.1 54.6 123.2 57.8 123.0 C61.0 122.8 63.2 122.0 66.0 121.7 C68.8 121.4 71.2 121.0 74.4 121.1 C77.7 121.1 81.8 121.7 85.5 122.0 C89.2 122.3 94.3 122.8 96.7 123.0 C99.1 123.2 97.6 123.1 100.0 123.4 C102.4 123.7 108.2 124.2 111.0 124.6 C113.8 125.0 113.9 124.8 116.7 125.6 C119.5 126.4 124.1 128.5 127.8 129.3 C131.5 130.1 135.2 130.3 138.9 130.6 C142.6 130.9 146.3 130.9 150.0 131.2 C153.7 131.5 157.3 131.7 161.0 132.2 C164.7 132.7 168.5 133.4 172.2 134.0 C175.9 134.6 180.5 135.4 183.3 135.8 C186.1 136.2 187.1 136.0 188.9 136.5 C190.8 137.0 192.6 138.1 194.4 138.9 C196.2 139.7 196.6 139.8 200.0 141.5 C203.4 143.2 210.0 146.6 215.0 148.8 C220.0 151.1 225.8 153.4 230.0 155.0 C234.2 156.6 237.5 157.6 240.0 158.3 C242.5 159.1 242.7 158.9 245.0 159.5 C247.3 160.1 250.6 161.2 253.9 161.8 C257.2 162.4 262.0 162.2 265.0 163.2 C268.0 164.2 269.7 166.5 272.0 168.0 C274.3 169.5 276.9 171.0 279.0 172.2 C281.1 173.4 282.1 173.7 284.4 175.0 C286.7 176.3 290.0 178.3 292.8 179.9 C295.6 181.5 298.2 183.3 301.0 184.7 C303.8 186.1 306.6 187.0 309.4 188.2 C312.2 189.4 315.0 190.3 317.8 191.7 C320.6 193.1 323.7 195.0 326.0 196.5 C328.3 198.0 329.4 199.1 331.7 200.6 C334.0 202.1 337.2 204.0 340.0 205.4 C342.8 206.8 345.5 207.9 348.3 208.9 C351.1 209.9 353.9 210.7 356.7 211.4 C359.5 212.1 362.2 212.5 365.0 213.0 C367.8 213.5 370.5 213.8 373.3 214.4 C376.1 215.0 378.8 215.7 381.7 216.3 C384.6 216.9 387.3 217.3 390.9 218.1 C394.5 218.9 398.3 220.3 403.2 221.2 C408.1 222.1 415.5 223.0 420.0 223.6 C424.5 224.2 425.8 224.5 430.0 224.5 C434.2 224.5 440.8 224.6 445.0 223.8 C449.2 223.1 450.8 221.1 455.0 220.0 C459.2 218.9 464.2 218.3 470.0 217.5 C475.8 216.7 483.3 215.9 490.0 215.0 C496.7 214.1 503.3 212.9 510.0 212.0 C516.7 211.1 524.2 210.3 530.0 209.5 C535.8 208.7 540.0 208.1 545.0 207.3 C550.0 206.6 555.0 205.7 560.0 205.0 C565.0 204.3 570.7 203.5 575.0 203.0 C579.3 202.5 581.8 202.0 586.0 202.0 C590.2 202.0 594.3 202.6 600.0 203.0 C605.7 203.4 613.3 204.2 620.0 204.5 C626.7 204.8 633.3 205.1 640.0 205.0 C646.7 204.9 654.2 204.3 660.0 204.0 C665.8 203.7 669.8 203.2 675.0 203.0 C680.2 202.8 688.6 203.0 691.3 203.0" fill="none" stroke="#008088" stroke-opacity="0.8" stroke-width="1.6" stroke-linejoin="round" stroke-linecap="butt"/>
</svg>
<div class="yl" style="top:26.50px">5.6</div><div class="yl" style="top:75.90px">5.4</div><div class="yl" style="top:123.80px">5.2</div><div class="yl" style="top:173.25px">5</div><div class="yl" style="top:221.30px">4.8</div><div class="yl" style="top:270.40px">4.6</div><div class="yl" style="top:318.75px">4.4</div>
<div class="xl" style="left:-4.3px">20220930</div><div class="xl" style="left:78.3px">20221028</div><div class="xl" style="left:161.0px">20221118</div><div class="xl" style="left:243.6px">20221209</div><div class="xl" style="left:326.3px">20221230</div><div class="xl" style="left:408.9px">20230130</div><div class="xl" style="left:491.5px">20230220</div><div class="xl" style="left:574.2px">20230313</div><div class="xl" style="left:651.3px">20230331</div>
<div class="lg" style="left:240.4px"><svg width="21.6" height="14" viewBox="0 0 21.6 14"><line x1="0" x2="21.6" y1="7" y2="7" stroke="#4b0082" stroke-width="1.1" opacity="0.75"/><circle cx="10.8" cy="7" r="4.85" fill="#fff" stroke="#4b0082" stroke-width="1.75"/></svg><span>MA5</span></div><div class="lg" style="left:298.5px"><svg width="21.6" height="14" viewBox="0 0 21.6 14"><line x1="0" x2="21.6" y1="7" y2="7" stroke="#d2691e" stroke-width="1.1" opacity="0.75"/><circle cx="10.8" cy="7" r="4.85" fill="#fff" stroke="#d2691e" stroke-width="1.75"/></svg><span>MA10</span></div><div class="lg" style="left:361.9px"><svg width="21.6" height="14" viewBox="0 0 21.6 14"><line x1="0" x2="21.6" y1="7" y2="7" stroke="#c71585" stroke-width="1.1" opacity="0.75"/><circle cx="10.8" cy="7" r="4.85" fill="#fff" stroke="#c71585" stroke-width="1.75"/></svg><span>MA30</span></div><div class="lg" style="left:425.8px"><svg width="21.6" height="14" viewBox="0 0 21.6 14"><line x1="0" x2="21.6" y1="7" y2="7" stroke="#008080" stroke-width="1.1" opacity="0.75"/><circle cx="10.8" cy="7" r="4.85" fill="#fff" stroke="#008080" stroke-width="1.75"/></svg><span>MA60</span></div>
</body></html>
